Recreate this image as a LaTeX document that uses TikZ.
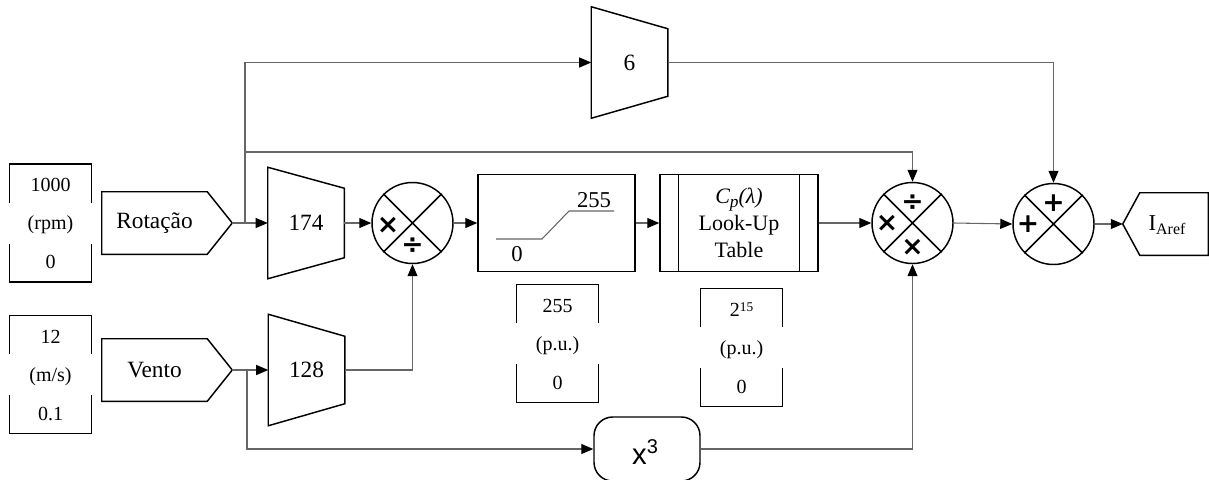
\documentclass[tikz,border=0pt]{standalone}
\usepackage{fontspec}
\setmainfont{Liberation Serif}
\newfontfamily\symfont{DejaVu Sans}
\newfontfamily\sansfont{Liberation Sans}
\usetikzlibrary{arrows.meta,calc}

\newcommand\rangebox[6]{%
  \node[holder,minimum width=60.75pt,minimum height=88.1pt] (#1) at (#2,#3) {};
  \draw[shp] ($(#1.north west)+(0,38.5)$) -- (#1.north west) -- (#1.north east) -- ($(#1.north east)+(0,38.5)$);
  \draw[shp] ($(#1.south west)+(0,-38.5)$) -- (#1.south west) -- (#1.south east) -- ($(#1.south east)+(0,-38.5)$);
  \node[rng] (#1t) at ($(#1.north)+(0,21)$) {#4};
  \node[rng] (#1m) at ($(#1.center)+(0,2)$) {#5};
  \node[rng] (#1b) at ($(#1.south)+(0,-20)$) {#6};
}

\begin{document}
\begin{tikzpicture}[x=0.75pt,y=-0.75pt,
  shp/.style={draw=black,line width=1.1pt,line join=miter},
  conn/.style={draw=black!60,line width=0.8pt,-{Triangle[length=9pt,width=7.5pt,color=black]}},
  wire/.style={draw=black!60,line width=0.8pt},
  holder/.style={draw=none,inner sep=0pt},
  lbl/.style={inner sep=0pt,font=\fontsize{17}{20}\selectfont},
  rng/.style={inner sep=0pt,font=\fontsize{15}{17}\selectfont},
  op/.style={inner sep=0pt,font=\symfont\bfseries\fontsize{20}{20}\selectfont},
  sumc/.style={circle,draw=black,line width=1.1pt,minimum size=60.75pt,inner sep=0pt},
  gainbox/.style={holder,minimum width=57pt,minimum height=83.25pt,font=\fontsize{17.5}{20}\selectfont},
  sigbox/.style={holder,minimum width=78.75pt,minimum height=46.5pt,font=\fontsize{17.5}{20}\selectfont},
]
\useasboundingbox (0,0) rectangle (1209,479);

% range displays
\rangebox{rA}{50.5}{223}{1000}{(rpm)}{0}
\rangebox{rB}{50.5}{374.5}{12}{(m/s)}{0.1}
\rangebox{rC}{557.5}{343.5}{255}{(p.u.)}{0}
\rangebox{rD}{741.5}{347.5}{2\raisebox{0.55ex}{\fontsize{10}{10}\selectfont 15}}{(p.u.)}{0}

% input signals
\node[sigbox] (rot) at (154.5,223) {Rotação};
\coordinate (rottip) at ($(rot.east)+(25,0)$);
\draw[shp] (rot.north west) -- (rot.north east) -- (rottip) -- (rot.south east) -- (rot.south west) -- cycle;

\node[sigbox] (vento) at (154.5,370) {Vento};
\coordinate (ventotip) at ($(vento.east)+(25,0)$);
\draw[shp] (vento.north west) -- (vento.north east) -- (ventotip) -- (vento.south east) -- (vento.south west) -- cycle;

% gains
\node[gainbox] (g6) at (629.5,62.5) {6};
\draw[shp] (g6.north west) -- ($(g6.north east)+(0,22)$) -- ($(g6.south east)+(0,-22)$) -- (g6.south west) -- cycle;
\node[gainbox] (g174) at (306,223) {174};
\draw[shp] (g174.north west) -- ($(g174.north east)+(0,21)$) -- ($(g174.south east)+(0,-21)$) -- (g174.south west) -- cycle;
\node[gainbox] (g128) at (306.5,370) {128};
\draw[shp] (g128.north west) -- ($(g128.north east)+(0,22)$) -- ($(g128.south east)+(0,-22)$) -- (g128.south west) -- cycle;

% multiplier / divider 1
\node[sumc] (c1) at (412.5,223) {};
\draw[shp] (c1.45) -- (c1.225) (c1.135) -- (c1.315);
\node[op] (c1a) at ($(c1.center)+(-24.5,2.5)$) {×};
\node[op] (c1b) at ($(c1.center)+(0,22.5)$) {÷};

% saturation
\node[draw=black,line width=1.1pt,minimum width=117.75pt,minimum height=72.75pt,inner sep=0pt] (sat) at (556.5,223) {};
\draw[draw=black!60,line width=0.8pt] (496,239) -- (542,239) -- (569,211) -- (614,211);
\node[lbl] (sathi) at (594,200) {255};
\node[lbl] (satlo) at (517,254) {0};

% look-up table
\node[draw=black,line width=1.1pt,minimum width=118.5pt,minimum height=72.75pt,inner sep=0pt,
  align=center,font=\fontsize{16.5}{20.5}\selectfont] (lut) at (739,223)
  {\textit{C\raisebox{-0.45ex}{\fontsize{13}{13}\selectfont p}(λ)}\\Look-Up\\Table};
\draw[shp] ($(lut.north west)+(19,0)$) -- ($(lut.south west)+(19,0)$);
\draw[shp] ($(lut.north east)+(-19,0)$) -- ($(lut.south east)+(-19,0)$);

% multiplier / divider 2
\node[sumc] (c2) at (912.5,223) {};
\draw[shp] (c2.45) -- (c2.225) (c2.135) -- (c2.315);
\node[op] (c2a) at ($(c2.center)+(0,-20)$) {÷};
\node[op] (c2b) at ($(c2.center)+(-25.5,0)$) {×};
\node[op] (c2c) at ($(c2.center)+(0,24)$) {×};

% adder
\node[sumc] (c3) at (1053.5,224) {};
\draw[shp] (c3.45) -- (c3.225) (c3.135) -- (c3.315);
\node[op] (c3a) at ($(c3.center)+(0,-20.5)$) {+};
\node[op] (c3b) at ($(c3.center)+(-25.5,0)$) {+};

% cube
\node[draw=black,line width=1.1pt,rounded corners=14pt,minimum width=79.5pt,minimum height=48pt,inner sep=0pt] (x3) at (647,449) {};
\node[inner sep=0pt,font=\sansfont\fontsize{22}{22}\selectfont] (x3t) at (645,452) {x\raisebox{0.7ex}{\fontsize{15}{15}\selectfont 3}};

% output
\node[holder,minimum width=51pt,minimum height=46.5pt] (iaref) at (1174,224) {};
\coordinate (iareftip) at ($(iaref.west)+(-17,0)$);
\draw[shp] (iareftip) -- (iaref.north west) -- (iaref.north east) -- (iaref.south east) -- (iaref.south west) -- cycle;
\node[lbl] (iareft) at (1167,225) {I\raisebox{-0.45ex}{\fontsize{12}{12}\selectfont Aref}};

% connectors
\coordinate (b1) at (245,223);
\coordinate (j1) at (245,152);
\coordinate (b2) at (247,370);
\draw[conn] (rottip) -- (g174.west);
\draw[conn] (b1) |- (g6.west);
\draw[conn] (j1) -| (c2.north);
\draw[conn] (g174.east) -- (c1.west);
\draw[conn] (g128.east) -| (c1.south);
\draw[conn] (c1.east) -- (sat.west);
\draw[conn] (sat.east) -- (lut.west);
\draw[conn] (lut.east) -- (c2.west);
\draw[conn] (ventotip) -- (g128.west);
\draw[conn] (b2) |- (x3.west);
\draw[conn] (x3.east) -| (c2.south);
\draw[conn] (g6.east) -| (c3.north);
\draw[conn] (c2.east) -- (c3.west);
\draw[conn] (c3.east) -- (iareftip);
\end{tikzpicture}
\end{document}
